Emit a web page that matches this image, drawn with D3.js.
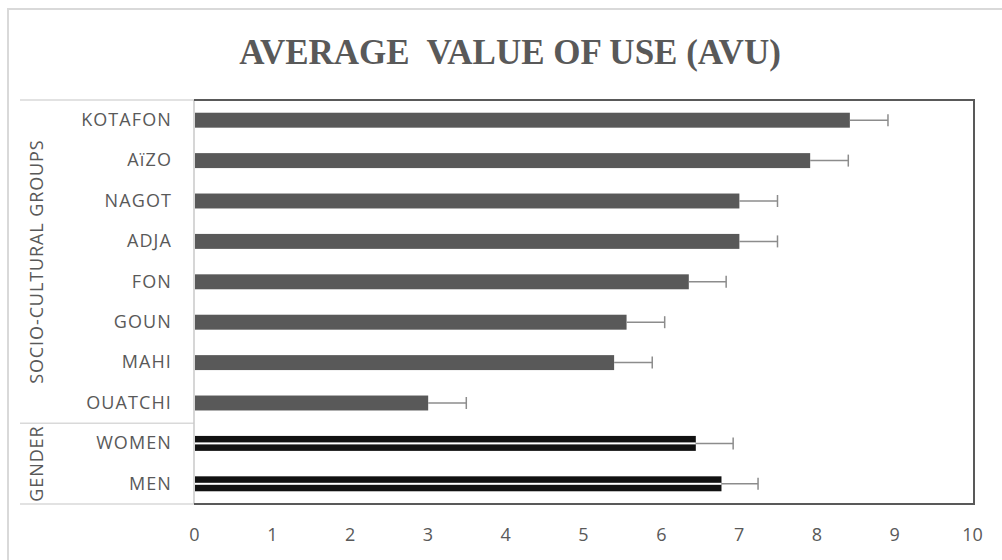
<!DOCTYPE html>
<html>
<head>
<meta charset="utf-8">
<script src="https://cdn.jsdelivr.net/npm/d3@7"></script>
<style>
  body { margin: 0; background: #fff; }
  svg { display: block; }
  .lbl { font-family: "Open Sans", sans-serif; fill: #595959; }
</style>
</head>
<body>
<div id="chart"></div>
<script>
// chart values
var categories = ["KOTAFON", "AïZO", "NAGOT", "ADJA", "FON", "GOUN", "MAHI", "OUATCHI", "WOMEN", "MEN"];
var avu = [8.43, 7.92, 7.01, 7.01, 6.36, 5.56, 5.40, 3.01, 6.45, 6.78];
var errors = [0.49, 0.49, 0.49, 0.49, 0.48, 0.49, 0.49, 0.49, 0.48, 0.47];
var groupOf = ["SOCIO-CULTURAL GROUPS", "SOCIO-CULTURAL GROUPS", "SOCIO-CULTURAL GROUPS",
  "SOCIO-CULTURAL GROUPS", "SOCIO-CULTURAL GROUPS", "SOCIO-CULTURAL GROUPS",
  "SOCIO-CULTURAL GROUPS", "SOCIO-CULTURAL GROUPS", "GENDER", "GENDER"];
var groupNames = ["SOCIO-CULTURAL GROUPS", "GENDER"];
var xTicks = [0, 1, 2, 3, 4, 5, 6, 7, 8, 9, 10];

var W = 1002, H = 560;
var plot = {left: 194, right: 972, top: 100, bottom: 504};

var svg = d3.select("#chart")
  .append("svg")
  .attr("width", W)
  .attr("height", H);

// outer chart frame (right and bottom sides fall outside the picture)
svg.append("rect")
  .attr("x", 8).attr("y", 9)
  .attr("width", 1010).attr("height", 570)
  .attr("fill", "none")
  .attr("stroke", "#d9d9d9")
  .attr("stroke-width", 2);

// title
svg.append("text")
  .attr("x", 510)
  .attr("y", 64)
  .attr("text-anchor", "middle")
  .style("font-family", "'Liberation Serif', 'Times New Roman', serif")
  .style("font-weight", "bold")
  .style("font-size", "35px")
  .style("fill", "#595959")
  .style("white-space", "pre")
  .text("AVERAGE  VALUE OF USE (AVU)");

var x = d3.scaleLinear()
  .domain([0, 10])
  .range([plot.left, plot.right]);

var y = d3.scaleBand()
  .domain(categories)
  .range([plot.top, plot.bottom])
  .paddingInner(0.63)
  .paddingOuter(0.315);

var step = y.step();

// x axis labels
var xAxis = d3.axisBottom(x).tickValues(xTicks).tickSize(0).tickPadding(24);
var gx = svg.append("g")
  .attr("transform", "translate(0," + plot.bottom + ")")
  .call(xAxis);
gx.select(".domain").remove();
gx.selectAll("text")
  .attr("class", "lbl")
  .attr("font-family", null)
  .style("font-size", "18px");

// category labels
var yAxis = d3.axisLeft(y).tickSize(0).tickPadding(22);
var gy = svg.append("g")
  .attr("transform", "translate(" + plot.left + ",0)")
  .call(yAxis);
gy.select(".domain").remove();
gy.selectAll("text")
  .attr("class", "lbl")
  .attr("font-family", null)
  .style("font-size", "18px")
  .style("letter-spacing", "1.1px");

// multi-level category axis: separators and rotated group names
var sepColor = "#d9d9d9";
var groupSpans = groupNames.map(function(g) {
  var idx = categories.filter(function(c, i) { return groupOf[i] === g; });
  var y0 = y(idx[0]) - y.paddingOuter() * step;
  var y1 = y(idx[idx.length - 1]) + y.bandwidth() + y.paddingOuter() * step;
  return {name: g, y0: y0, y1: y1};
});

svg.selectAll(".sep")
  .data([plot.top].concat(groupSpans.map(function(d) { return d.y1; })))
  .enter().append("line")
  .attr("x1", 20).attr("x2", plot.left)
  .attr("y1", function(d) { return d; })
  .attr("y2", function(d) { return d; })
  .attr("stroke", sepColor)
  .attr("stroke-width", 1.5);

svg.selectAll(".grp")
  .data(groupSpans)
  .enter().append("text")
  .attr("class", "lbl")
  .attr("transform", function(d) {
    return "translate(43," + ((d.y0 + d.y1) / 2) + ") rotate(-90)";
  })
  .attr("text-anchor", "middle")
  .style("font-size", "18px")
  .style("letter-spacing", "0.9px")
  .text(function(d) { return d.name; });

// plot area border
svg.append("line")
  .attr("x1", plot.left).attr("x2", plot.left)
  .attr("y1", plot.top).attr("y2", plot.bottom)
  .attr("stroke", "#c8c8c8").attr("stroke-width", 1.5);
svg.append("path")
  .attr("d", "M" + plot.left + "," + plot.top + "H" + (plot.right + 2) +
    "V" + plot.bottom + "H" + plot.left)
  .attr("fill", "none")
  .attr("stroke", "#595959")
  .attr("stroke-width", 2);

var rows = categories.map(function(c, i) {
  return {cat: c, v: avu[i], e: errors[i], group: groupOf[i]};
});

// bars
svg.selectAll(".bar")
  .data(rows)
  .enter().append("rect")
  .attr("x", x(0) + 1)
  .attr("y", function(d) { return y(d.cat); })
  .attr("width", function(d) { return x(d.v) - x(0) - 1; })
  .attr("height", y.bandwidth())
  .attr("fill", function(d) { return d.group === "GENDER" ? "#111" : "#595959"; });

// white stripe through the gender bars
svg.selectAll(".stripe")
  .data(rows.filter(function(d) { return d.group === "GENDER"; }))
  .enter().append("rect")
  .attr("x", x(0) + 1)
  .attr("y", function(d) { return y(d.cat) + y.bandwidth() / 2 - 1; })
  .attr("width", function(d) { return x(d.v) - x(0) - 1; })
  .attr("height", 2)
  .attr("fill", "#fff");

// error bars (plus direction)
var err = svg.selectAll(".err")
  .data(rows)
  .enter().append("g")
  .attr("stroke", "#8c8c8c")
  .attr("stroke-width", 1.5);
err.append("line")
  .attr("x1", function(d) { return x(d.v); })
  .attr("x2", function(d) { return x(d.v + d.e); })
  .attr("y1", function(d) { return y(d.cat) + y.bandwidth() / 2; })
  .attr("y2", function(d) { return y(d.cat) + y.bandwidth() / 2; });
err.append("line")
  .attr("x1", function(d) { return x(d.v + d.e); })
  .attr("x2", function(d) { return x(d.v + d.e); })
  .attr("y1", function(d) { return y(d.cat) + y.bandwidth() / 2 - 6; })
  .attr("y2", function(d) { return y(d.cat) + y.bandwidth() / 2 + 6; });
</script>
</body>
</html>
